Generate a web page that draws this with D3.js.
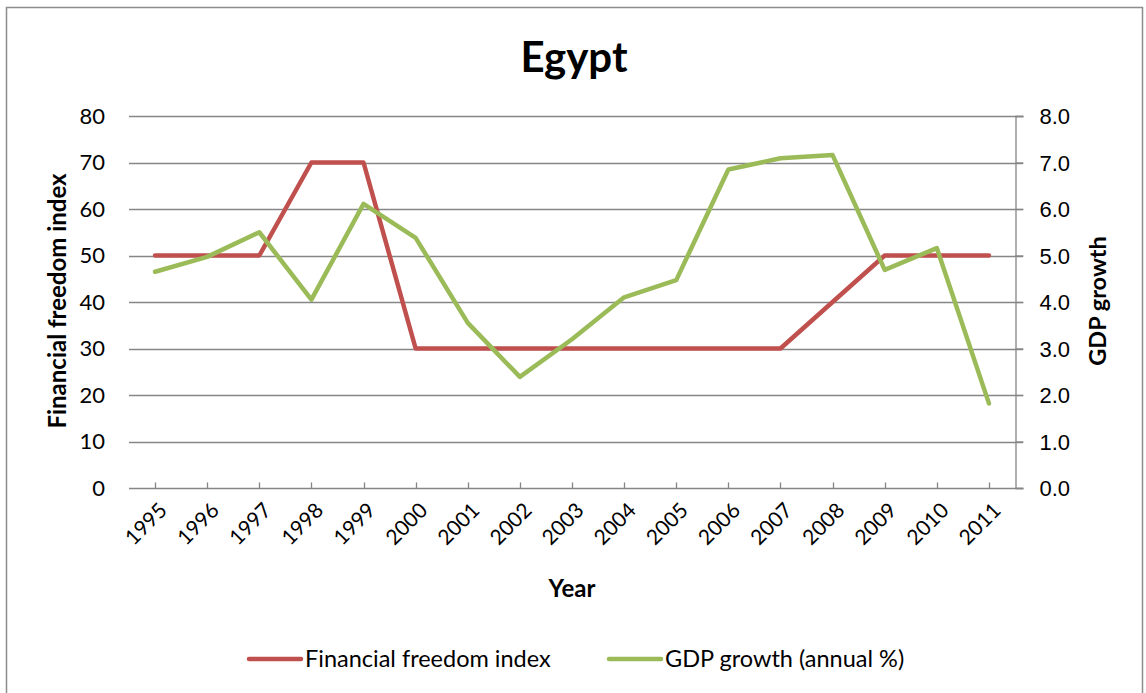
<!DOCTYPE html>
<html>
<head>
<meta charset="utf-8">
<script src="https://cdn.jsdelivr.net/npm/d3@7"></script>
<style>
  body { margin: 0; background: #fff; }
  svg { font-family: Lato, "Open Sans", "Noto Sans", sans-serif; }
</style>
</head>
<body>
<div id="chart"></div>
<script>
const years = ["1995","1996","1997","1998","1999","2000","2001","2002","2003","2004","2005","2006","2007","2008","2009","2010","2011"]
const financialFreedom = [50,50,50,70,70,30,30,30,30,30,30,30,30,40,50,50,50]
const gdpGrowth = [4.65,4.97,5.5,4.05,6.11,5.38,3.55,2.39,3.2,4.1,4.47,6.85,7.09,7.16,4.69,5.16,1.82]
const leftTicks = [0,10,20,30,40,50,60,70,80]
const rightTicks = [0,1,2,3,4,5,6,7,8]

const width = 1146
const height = 693
const margin = { top: 116, left: 129, bottom: 205, right: 131 }
const redColor = "#C0504D"
const greenColor = "#9BBB59"
const gridColor = "#868686"

const svg = d3.select("#chart").append("svg")
    .attr("width", width)
    .attr("height", height)

// outer frame
svg.append("rect")
    .attr("x", 6.5).attr("y", 7.5)
    .attr("width", 1136).attr("height", 690)
    .attr("fill", "none")
    .attr("stroke", "#8c8c8c")
    .attr("stroke-width", 1.5)

const x = d3.scaleBand()
    .domain(years)
    .range([margin.left, width - margin.right])
    .padding(0)

const yLeft = d3.scaleLinear()
    .domain([0, 80])
    .range([height - margin.bottom, margin.top])

const yRight = d3.scaleLinear()
    .domain([0, 8])
    .range([height - margin.bottom, margin.top])

const cx = d => x(d) + x.bandwidth() / 2
const plotRight = width - margin.right

// gridlines
svg.append("g")
    .attr("class", "grid")
    .selectAll("line")
    .data(leftTicks.slice(1))
    .enter()
    .append("line")
    .attr("x1", margin.left)
    .attr("x2", plotRight + 8)
    .attr("y1", d => Math.round(yLeft(d)) + 0.5)
    .attr("y2", d => Math.round(yLeft(d)) + 0.5)
    .attr("stroke", gridColor)
    .attr("stroke-width", 1.3)

// left tick labels
svg.append("g")
    .selectAll("text")
    .data(leftTicks)
    .enter()
    .append("text")
    .attr("x", 105)
    .attr("y", d => yLeft(d))
    .attr("dy", "0.36em")
    .style("text-anchor", "end")
    .style("font-size", "22px")
    .style("fill", "#000")
    .text(d => d)

// right axis
const rightAxis = svg.append("g")
    .attr("transform", `translate(${plotRight + 0.5},0)`)
    .call(d3.axisRight(yRight).tickValues(rightTicks).tickSize(8).tickPadding(16).tickFormat(d3.format(".1f")))
rightAxis.select(".domain").attr("stroke", gridColor).attr("stroke-width", 1.3)
rightAxis.selectAll(".tick line").attr("stroke", gridColor).attr("stroke-width", 1.3)
rightAxis.selectAll(".tick text")
    .style("font-size", "22px")
    .style("font-family", "inherit")
    .attr("dy", "0.36em")
    .attr("fill", "#000")

// x axis
const xAxisY = Math.round(yLeft(0)) + 0.5
svg.append("line")
    .attr("x1", margin.left)
    .attr("x2", plotRight + 8)
    .attr("y1", xAxisY)
    .attr("y2", xAxisY)
    .attr("stroke", gridColor)
    .attr("stroke-width", 1.5)

svg.append("g")
    .selectAll("line")
    .data(years)
    .enter()
    .append("line")
    .attr("x1", d => Math.round(cx(d)) + 0.5)
    .attr("x2", d => Math.round(cx(d)) + 0.5)
    .attr("y1", xAxisY - 6)
    .attr("y2", xAxisY)
    .attr("stroke", gridColor)
    .attr("stroke-width", 1.3)

svg.append("g")
    .selectAll("text")
    .data(years)
    .enter()
    .append("text")
    .attr("transform", d => `translate(${cx(d) + 8},${xAxisY + 18}) rotate(-45)`)
    .style("text-anchor", "end")
    .style("font-size", "21px")
    .attr("dy", "0.35em")
    .text(d => d)

// lines
const redLine = d3.line()
    .x((d, i) => cx(years[i]))
    .y(d => yLeft(d))

const greenLine = d3.line()
    .x((d, i) => cx(years[i]))
    .y(d => yRight(d))

svg.append("path")
    .datum(financialFreedom)
    .attr("d", redLine)
    .attr("fill", "none")
    .attr("stroke", redColor)
    .attr("stroke-width", 4.5)
    .attr("stroke-linejoin", "round")
    .attr("stroke-linecap", "round")

svg.append("path")
    .datum(gdpGrowth)
    .attr("d", greenLine)
    .attr("fill", "none")
    .attr("stroke", greenColor)
    .attr("stroke-width", 4.5)
    .attr("stroke-linejoin", "round")
    .attr("stroke-linecap", "round")

// titles
svg.append("text")
    .attr("x", 574)
    .attr("y", 72)
    .style("text-anchor", "middle")
    .style("font-size", "42px")
    .style("font-weight", "bold")
    .text("Egypt")

svg.append("text")
    .attr("x", 572)
    .attr("y", 597)
    .style("text-anchor", "middle")
    .style("font-size", "24px")
    .style("font-weight", "bold")
    .text("Year")

svg.append("text")
    .attr("transform", "translate(66,301) rotate(-90)")
    .style("text-anchor", "middle")
    .style("font-size", "24px")
    .style("font-weight", "bold")
    .text("Financial freedom index")

svg.append("text")
    .attr("transform", "translate(1106,301) rotate(-90)")
    .style("text-anchor", "middle")
    .style("font-size", "23.5px")
    .style("font-weight", "bold")
    .text("GDP growth")

// legend
const legendItems = [
    { label: "Financial freedom index", color: redColor, x: 249 },
    { label: "GDP growth (annual %)", color: greenColor, x: 609 }
]
const legend = svg.append("g").attr("class", "legend")
legendItems.forEach(item => {
    legend.append("line")
        .attr("x1", item.x).attr("x2", item.x + 52)
        .attr("y1", 659).attr("y2", 659)
        .attr("stroke", item.color)
        .attr("stroke-width", 4.5)
        .attr("stroke-linecap", "round")
    legend.append("text")
        .attr("x", item.x + 56)
        .attr("y", 659)
        .attr("dy", "0.36em")
        .style("font-size", "23.5px")
        .text(item.label)
})
</script>
</body>
</html>
